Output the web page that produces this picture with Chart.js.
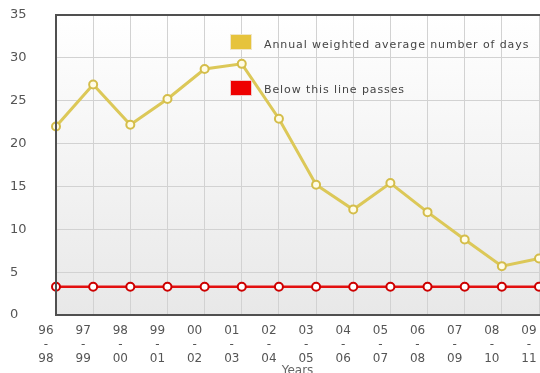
<!DOCTYPE html>
<html><head><meta charset="utf-8">
<script src="https://cdn.jsdelivr.net/npm/chart.js@4/dist/chart.umd.min.js"></script>
<style>
html,body{margin:0;padding:0;background:#fff;overflow:hidden;width:540px;height:373px}
#wrap{position:relative;width:540px;height:378px}
canvas{display:block}
.lg{position:absolute;font-family:"DejaVu Sans",sans-serif;font-size:11px;color:#444;white-space:nowrap;letter-spacing:0.9px}
.bx{position:absolute;width:20px;height:14px;border:1px solid #f0e6c8}
</style></head><body>
<div id="wrap"><canvas id="c" width="540" height="378"></canvas>
<div class="bx" style="left:230px;top:34px;background:#e6c33c;"></div>
<div class="lg" style="left:264px;top:38px;">Annual weighted average number of days</div>
<div class="bx" style="left:230px;top:80px;background:#ee0000;border-color:#f0c8c8"></div>
<div class="lg" style="left:264px;top:83px;">Below this line passes</div>
</div>
<script>
const categories = ["96-98","97-99","98-00","99-01","00-02","01-03","02-04","03-05","04-06","05-07","06-08","07-09","08-10","09-11"];
const averageDays = [22.0, 26.9, 22.2, 25.2, 28.7, 29.3, 22.9, 15.2, 12.3, 15.4, 12.0, 8.8, 5.7, 6.6];
const thresholdDays = [3.3, 3.3, 3.3, 3.3, 3.3, 3.3, 3.3, 3.3, 3.3, 3.3, 3.3, 3.3, 3.3, 3.3];
const yTicks = [0, 5, 10, 15, 20, 25, 30, 35];
const seriesNames = ["Annual weighted average number of days", "Below this line passes"];
const xTitle = "Years";

const bgPlugin = {
  id: 'bg',
  beforeDraw(chart) {
    const {ctx, chartArea: a} = chart;
    const g = ctx.createLinearGradient(0, a.top, 0, a.bottom);
    g.addColorStop(0, '#ffffff');
    g.addColorStop(1, '#e8e8e8');
    ctx.save();
    ctx.fillStyle = g;
    ctx.fillRect(a.left, a.top, a.right - a.left + 2, a.bottom - a.top);
    ctx.restore();
  },
  afterDatasetsDraw(chart) {
    const {ctx, chartArea: a} = chart;
    ctx.save();
    ctx.strokeStyle = '#505050';
    ctx.lineWidth = 2;
    ctx.beginPath();
    ctx.moveTo(a.right + 2, a.top);
    ctx.lineTo(a.left, a.top);
    ctx.lineTo(a.left, a.bottom);
    ctx.lineTo(a.right + 2, a.bottom);
    ctx.stroke();
    ctx.restore();
  }
};

new Chart(document.getElementById('c'), {
  type: 'line',
  data: {
    labels: categories.map(c => { const p = c.split('-'); return [p[0], '-', p[1]]; }),
    datasets: [
      { label: seriesNames[0], data: averageDays, borderColor: '#dcc858', borderWidth: 3,
        pointRadius: 4, pointBorderWidth: 2, pointBackgroundColor: '#fffce6', pointBorderColor: '#d4bd4a',
        tension: 0, clip: false },
      { label: seriesNames[1], data: thresholdDays, borderColor: '#e31010', borderWidth: 2.5,
        pointRadius: 4, pointBorderWidth: 2, pointBackgroundColor: '#ffffff', pointBorderColor: '#cc0000',
        tension: 0, clip: false }
    ]
  },
  options: {
    responsive: false,
    animation: false,
    layout: { autoPadding: false, padding: { left: 10, right: 1, top: 15, bottom: 0 } },
    plugins: { legend: { display: false }, tooltip: { enabled: false } },
    scales: {
      x: {
        offset: false,
        grid: { color: '#d2d2d2', drawTicks: false, lineWidth: 1 },
        border: { display: false },
        ticks: { color: '#555', font: { family: 'DejaVu Sans', size: 12, lineHeight: 1.17 },
                 padding: 9, labelOffset: -10, maxRotation: 0, autoSkip: false },
        title: { display: true, text: xTitle, color: '#666', font: { family: 'DejaVu Sans', size: 12 },
                 padding: { top: 0, bottom: 0 } },
        afterFit(s) { s.height = 63; s.paddingLeft = 0; s.paddingRight = 0; }
      },
      y: {
        min: 0, max: 35,
        afterBuildTicks(s) { s.ticks = yTicks.map(v => ({ value: v })); },
        grid: { color: '#d2d2d2', drawTicks: false },
        border: { display: false },
        ticks: { color: '#555', font: { family: 'DejaVu Sans', size: 13 }, crossAlign: 'far', padding: 0 },
        afterFit(s) { s.width = 46; s.paddingTop = 0; s.paddingBottom = 0; }
      }
    }
  },
  plugins: [bgPlugin]
});
</script>
</body></html>
